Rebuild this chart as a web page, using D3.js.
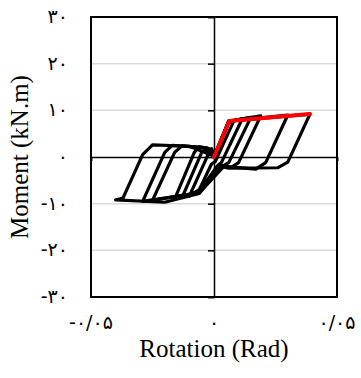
<!DOCTYPE html>
<html>
<head>
<meta charset="utf-8">
<script src="https://cdn.jsdelivr.net/npm/d3@7"></script>
<style>
  body { margin: 0; background: #fff; }
  .tick-lbl { font-family: "DejaVu Sans", sans-serif; font-size: 19px; fill: #000; }
  .title { font-family: "Liberation Serif", "Times New Roman", serif; font-size: 25px; fill: #000; }
</style>
</head>
<body>
<div id="chart"></div>
<script>
// hysteresis cycles: [rotation (rad), moment (kN.m)]
var cycle1 = [[0,0],[0.006,7.4],[0.008,7.7],[0.0005,-1.0],[-0.001,-1.5],[-0.006,-7.0],[-0.010,-8.4],[-0.002,1.0],[-0.001,1.8],[0,0.2]];
var cycle2 = [[0,0],[0.006,7.5],[0.0115,8.2],[0.003,-1.2],[0.0015,-1.8],[-0.006,-7.3],[-0.013,-8.7],[-0.005,1.0],[-0.003,2.0],[0,0.2]];
var cycle3 = [[0,0],[0.006,7.6],[0.015,8.5],[0.006,-1.2],[0.004,-1.8],[-0.006,-7.5],[-0.016,-9.0],[-0.008,1.0],[-0.006,2.2],[-0.002,1.8],[0,0.2]];
var cycle4 = [[0,0],[0.006,7.7],[0.019,8.8],[0.010,-1.2],[0.007,-2.2],[0.003,-1.8],[-0.006,-7.6],[-0.025,-9.3],[-0.016,1.0],[-0.013,2.4],[-0.004,2.0],[0,0.2]];
var cycle5 = [[0,0],[0.006,7.7],[0.030,9.0],[0.021,-1.2],[0.017,-2.6],[0.004,-2.0],[-0.006,-7.7],[-0.029,-9.5],[-0.020,1.0],[-0.017,2.5],[-0.004,2.0],[0,0.2]];
var cycle6 = [[0,0],[0.006,7.7],[0.039,9.2],[0.030,-1.1],[0.026,-2.3],[0.006,-2.4],[0.003,-2.0],[-0.006,-7.8],[-0.020,-9.7],[-0.040,-9.2],[-0.037,-8.8],[-0.029,0.5],[-0.025,2.6],[-0.010,2.3],[0,0.2]];
var cycles = [cycle1, cycle2, cycle3, cycle4, cycle5, cycle6];

// backbone (envelope) curve in red
var envelope = [[0,0],[0.0062,7.7],[0.039,9.2]];

var yTicks = [-30, -20, -10, 0, 10, 20, 30];
var yTickLabels = ["-۳۰", "-۲۰", "-۱۰", "۰", "۱۰", "۲۰", "۳۰"];
var xTicks = [-0.05, 0, 0.05];
var xTickLabels = ["-۰/۰۵", "۰", "۰/۰۵"];
var gridVals = [-20, -10, 10, 20];

var W = 361, H = 378;
var margin = {left: 91, right: 24, top: 17, bottom: 81};
var width = W - margin.left - margin.right;
var height = H - margin.top - margin.bottom;

var x = d3.scaleLinear().domain([-0.05, 0.05]).range([0, width]);
var y = d3.scaleLinear().domain([-30, 30]).range([height, 0]);

var svg = d3.select("#chart")
    .append("svg")
    .attr("width", W)
    .attr("height", H)
    .append("g")
    .attr("transform", "translate(" + margin.left + "," + margin.top + ")");

// gridlines
svg.selectAll(".grid")
    .data(gridVals)
    .enter().append("line")
    .attr("x1", 0).attr("x2", width)
    .attr("y1", function (d) { return y(d); })
    .attr("y2", function (d) { return y(d); })
    .attr("stroke", "#d9d9d9")
    .attr("stroke-width", 1.5);

// axis through zero (y) with small ticks
var yAxis = svg.append("g")
    .attr("transform", "translate(" + x(0) + ",0)")
    .call(d3.axisLeft(y).tickValues(yTicks).tickSize(6).tickFormat(""));
yAxis.select(".domain").attr("stroke-width", 1.5);
yAxis.selectAll(".tick line").attr("stroke-width", 1.5);

var xAxis = svg.append("g")
    .attr("transform", "translate(0," + y(0) + ")")
    .call(d3.axisBottom(x).tickValues(xTicks).tickSize(4).tickFormat(""));
xAxis.select(".domain").attr("stroke-width", 1.5);
xAxis.selectAll(".tick line").attr("stroke-width", 1.5);

// frame
svg.append("rect")
    .attr("x", 0).attr("y", 0)
    .attr("width", width).attr("height", height)
    .attr("fill", "none")
    .attr("stroke", "#000")
    .attr("stroke-width", 2);

// tick labels
svg.selectAll(".ylbl")
    .data(yTicks)
    .enter().append("text")
    .attr("class", "tick-lbl")
    .attr("x", -23)
    .attr("y", function (d) { return y(d) + 6; })
    .attr("text-anchor", "end")
    .text(function (d, i) { return yTickLabels[i]; });

svg.selectAll(".xlbl")
    .data(xTicks)
    .enter().append("text")
    .attr("class", "tick-lbl")
    .attr("x", function (d) { return x(d); })
    .attr("y", height + 32)
    .attr("text-anchor", "middle")
    .text(function (d, i) { return xTickLabels[i]; });

// hysteresis loops
var line = d3.line()
    .x(function (d) { return x(d[0]); })
    .y(function (d) { return y(d[1]); });

svg.selectAll(".cycle")
    .data(cycles)
    .enter().append("path")
    .attr("d", line)
    .attr("fill", "none")
    .attr("stroke", "#000")
    .attr("stroke-width", 3.2)
    .attr("stroke-linejoin", "round");

svg.append("path")
    .datum(envelope)
    .attr("d", line)
    .attr("fill", "none")
    .attr("stroke", "#ff0000")
    .attr("stroke-width", 4)
    .attr("stroke-linecap", "round")
    .attr("stroke-linejoin", "round");

// axis titles
svg.append("text")
    .attr("class", "title")
    .attr("x", width / 2)
    .attr("y", height + 60)
    .attr("text-anchor", "middle")
    .text("Rotation (Rad)");

svg.append("text")
    .attr("class", "title")
    .attr("transform", "translate(" + (-63) + "," + y(0) + ")rotate(-90)")
    .attr("text-anchor", "middle")
    .text("Moment (kN.m)");
</script>
</body>
</html>
